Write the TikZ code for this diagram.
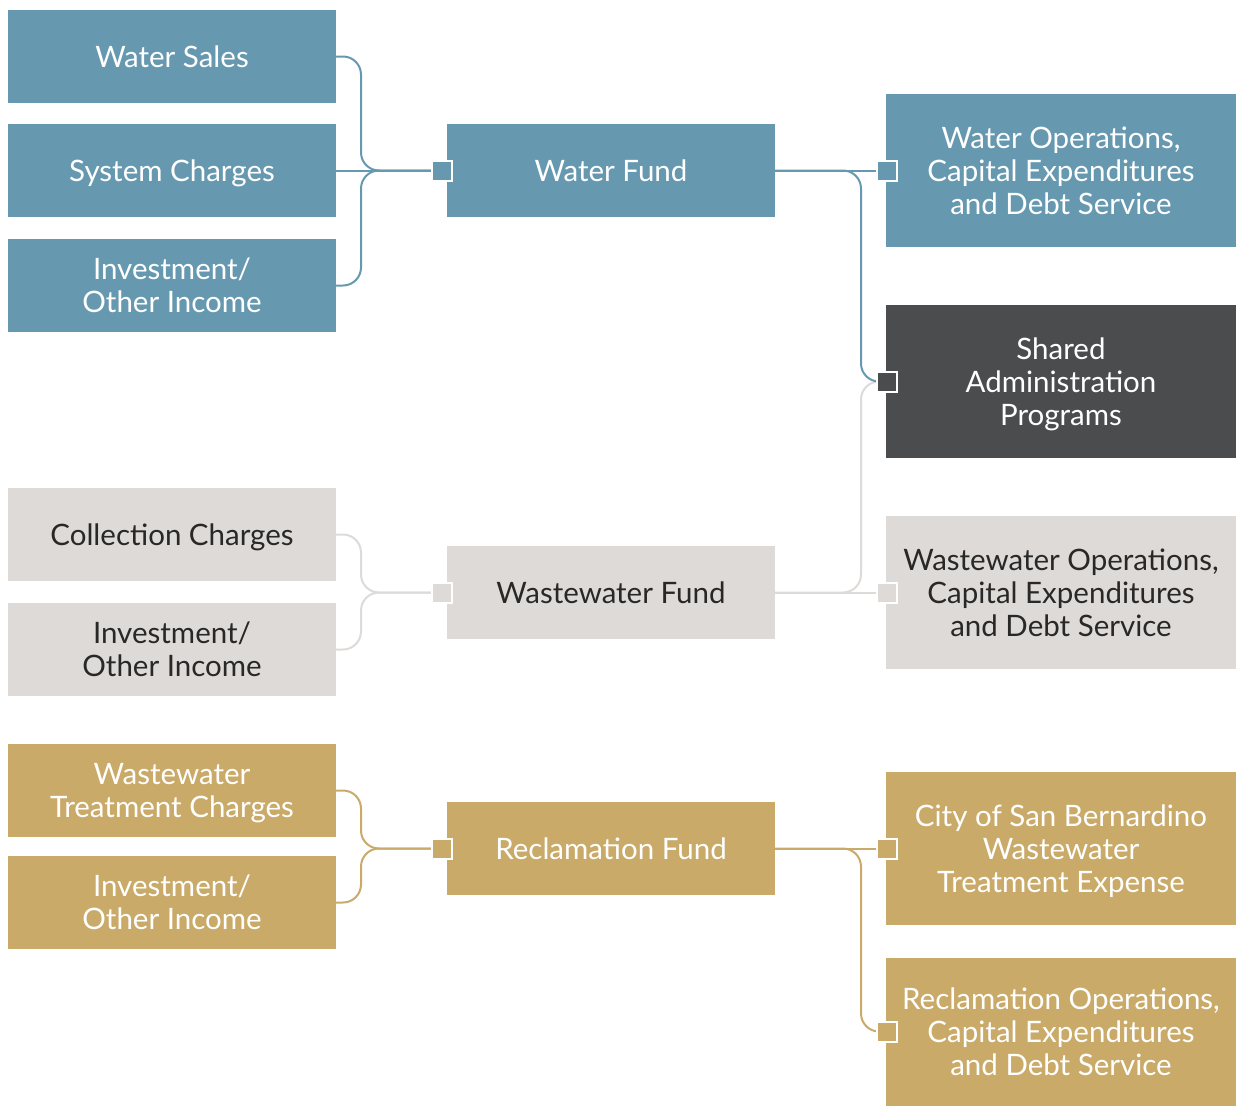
\documentclass[tikz,border=0pt]{standalone}
\usepackage{fontspec}
\setmainfont{Lato}
\usetikzlibrary{calc}
\definecolor{fundblue}{RGB}{102,153,176}
\definecolor{funddark}{RGB}{75,76,78}
\definecolor{fundgray}{RGB}{222,218,215}
\definecolor{fundgold}{RGB}{201,170,104}
\definecolor{inktext}{RGB}{40,40,40}
\tikzset{
  x=1pt, y=-1pt,
  box/.style={rectangle, inner sep=0pt, align=center, text depth=0pt,
    font=\fontsize{29.5}{33}\selectfont},
  srcbox/.style={box, minimum width=328pt, minimum height=93pt},
  fundbox/.style={box, minimum width=328pt, minimum height=93pt},
  usebox/.style={box, minimum width=350pt, minimum height=153pt},
  blue/.style={fill=fundblue, text=white},
  dark/.style={fill=funddark, text=white},
  gray/.style={fill=fundgray, text=inktext},
  gold/.style={fill=fundgold, text=white},
  link/.style={line width=2pt, rounded corners=18pt},
  port/.style={rectangle, minimum size=20pt, inner sep=0pt, draw=white, line width=2pt},
}
\begin{document}
\begin{tikzpicture}
\useasboundingbox (0,0) rectangle (1236,1106);

% revenue sources
\node[srcbox, blue] (ws)  at (172,56.5)  {Water Sales};
\node[srcbox, blue] (sc)  at (172,170.5) {System Charges};
\node[srcbox, blue] (wi)  at (172,285.5) {Investment/\\Other Income};
\node[srcbox, gray] (cc)  at (172,534.5) {Collection Charges};
\node[srcbox, gray] (wwi) at (172,649.5) {Investment/\\Other Income};
\node[srcbox, gold] (wtc) at (172,790.5) {Wastewater\\Treatment Charges};
\node[srcbox, gold] (ri)  at (172,902.5) {Investment/\\Other Income};

% funds
\node[fundbox, blue] (wf)  at (611,170.5) {Water Fund};
\node[fundbox, gray] (wwf) at (611,592.5) {Wastewater Fund};
\node[fundbox, gold] (rf)  at (611,848.5) {Reclamation Fund};

% uses
\node[usebox, blue] (wo)  at (1061,170.5) {Water Operations,\\Capital Expenditures\\and Debt Service};
\node[usebox, dark] (sa)  at (1061,381.5) {Shared\\Administration\\Programs};
\node[usebox, gray] (wwo) at (1061,592.5) {Wastewater Operations,\\Capital Expenditures\\and Debt Service};
\node[usebox, gold] (cs)  at (1061,848.5) {City of San Bernardino\\Wastewater\\Treatment Expense};
\node[usebox, gold, minimum height=148pt] (ro) at (1061,1031.5) {Reclamation Operations,\\Capital Expenditures\\and Debt Service};

% junction points of the brackets
\coordinate (jw)  at (361,170.5);
\coordinate (jww) at (361,592.5);
\coordinate (jr)  at (361,848.5);
\coordinate (jsa) at (861,381.5);
\coordinate (jro) at (861,1031.5);

% connector ports
\coordinate (pwf)  at ($(wf.west)+(-5,0)$);
\coordinate (pwwf) at ($(wwf.west)+(-5,0)$);
\coordinate (prf)  at ($(rf.west)+(-5,0)$);
\coordinate (pwo)  at ($(wo.west)+(1,0)$);
\coordinate (psa)  at ($(sa.west)+(1,0)$);
\coordinate (pwwo) at ($(wwo.west)+(1,0)$);
\coordinate (pcs)  at ($(cs.west)+(1,0)$);
\coordinate (pro)  at ($(ro.west)+(1,0)$);

% water connectors
\draw[link, fundblue] (ws.east) -| (jw) -- (pwf);
\draw[link, fundblue] (wi.east) -| (jw) -- (pwf);
\draw[link, fundblue] (sc.east) -- (pwf);

% wastewater connectors
\draw[link, fundgray] (cc.east) -| (jww) -- (pwwf);
\draw[link, fundgray] (wwi.east) -| (jww) -- (pwwf);
\draw[link, fundgray] (wwf.east) -- (pwwo);
\draw[link, fundgray] (wwf.east) -| (jsa) -- (psa);

% water fund to uses
\draw[link, fundblue] (wf.east) -- (pwo);
\draw[link, fundblue] (wf.east) -| (jsa) -- (psa);

% reclamation connectors
\draw[link, fundgold] (wtc.east) -| (jr) -- (prf);
\draw[link, fundgold] (ri.east) -| (jr) -- (prf);
\draw[link, fundgold] (rf.east) -- (pcs);
\draw[link, fundgold] (rf.east) -| (jro) -- (pro);

% ports
\node[port, fill=fundblue] (qwf)  at (pwf) {};
\node[port, fill=fundgray] (qwwf) at (pwwf) {};
\node[port, fill=fundgold] (qrf)  at (prf) {};
\node[port, fill=fundblue] (qwo)  at (pwo) {};
\node[port, fill=funddark] (qsa)  at (psa) {};
\node[port, fill=fundgray] (qwwo) at (pwwo) {};
\node[port, fill=fundgold] (qcs)  at (pcs) {};
\node[port, fill=fundgold] (qro)  at (pro) {};
\end{tikzpicture}
\end{document}
